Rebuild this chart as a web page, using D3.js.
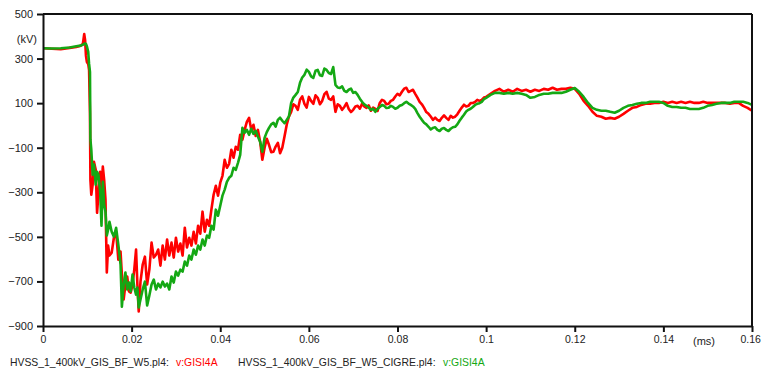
<!DOCTYPE html>
<html>
<head>
<meta charset="utf-8">
<script src="https://cdn.jsdelivr.net/npm/d3@7/dist/d3.min.js"></script>
<style>
  body { margin: 0; background: #fff; }
  svg { display: block; }
  text { font-family: "Liberation Sans", Arial, sans-serif; fill: #222; }
</style>
</head>
<body>
<svg id="chart" width="761" height="372"></svg>
<script>
// Sample instants (ms) shared by both traces
const timeMs = [
  0, 0.002, 0.004, 0.006, 0.0075, 0.0085, 0.009, 0.0093, 0.0095, 0.0097, 0.0099, 0.0102, 0.0104, 0.0106, 0.0107, 0.0109,
  0.0112, 0.0115, 0.0119, 0.0122, 0.0125, 0.0129, 0.0132, 0.0135, 0.0138, 0.0141, 0.0144, 0.0147, 0.015, 0.0155, 0.016, 0.0165,
  0.017, 0.0175, 0.0178, 0.0182, 0.0186, 0.019, 0.0194, 0.0198, 0.0202, 0.0206, 0.021, 0.0213, 0.0216, 0.022,
  0.0225, 0.023, 0.0235, 0.024, 0.0245, 0.025, 0.0255, 0.026, 0.0265, 0.027, 0.0275, 0.028, 0.0285, 0.029, 0.0295, 0.03,
  0.0305, 0.031, 0.0315, 0.032, 0.0325, 0.033, 0.0335, 0.034, 0.0345, 0.035, 0.0355, 0.036, 0.0365, 0.037, 0.0375, 0.038,
  0.0385, 0.039, 0.0395, 0.04, 0.0405, 0.041, 0.0415, 0.042, 0.0425, 0.043, 0.0435, 0.044, 0.0445, 0.045, 0.0455, 0.046,
  0.0465, 0.047, 0.0475, 0.048, 0.0485, 0.049, 0.0495, 0.05,
  0.0505, 0.051, 0.0515, 0.052, 0.0525, 0.053, 0.0535, 0.054, 0.0545, 0.055,
  0.0555, 0.056, 0.0565, 0.057, 0.0575, 0.058, 0.0585, 0.059, 0.0595, 0.06,
  0.0605, 0.061, 0.0615, 0.062, 0.0625, 0.063, 0.0635, 0.064, 0.0645, 0.065,
  0.0655, 0.066, 0.0665, 0.067, 0.0675, 0.068, 0.0685, 0.069, 0.0695, 0.07,
  0.0705, 0.071, 0.0715, 0.072, 0.0725, 0.073, 0.0735, 0.074, 0.0745, 0.075,
  0.0755, 0.076, 0.0765, 0.077, 0.0775, 0.078, 0.0785, 0.079, 0.0795, 0.08,
  0.0805, 0.081, 0.0815, 0.082, 0.0825, 0.083, 0.0835, 0.084, 0.0845, 0.085,
  0.0855, 0.086, 0.0865, 0.087, 0.0875, 0.088, 0.0885, 0.089, 0.0895, 0.09,
  0.0905, 0.091, 0.0915, 0.092, 0.0925, 0.093, 0.0935, 0.094, 0.0945, 0.095,
  0.0955, 0.096, 0.0965, 0.097, 0.0975, 0.098, 0.0985, 0.099, 0.0995,
  0.1, 0.101, 0.102, 0.103, 0.104, 0.105, 0.106, 0.107, 0.108, 0.109, 0.11, 0.111, 0.112, 0.113, 0.114, 0.115,
  0.116, 0.117, 0.118, 0.119, 0.12, 0.121, 0.122, 0.123, 0.124, 0.125, 0.126, 0.127, 0.128, 0.129, 0.13, 0.131,
  0.132, 0.133, 0.134, 0.135, 0.136, 0.137, 0.138, 0.139, 0.14, 0.141, 0.142, 0.143, 0.144, 0.145, 0.146, 0.147,
  0.148, 0.149, 0.15, 0.151, 0.152, 0.153, 0.154, 0.155, 0.156, 0.157, 0.158, 0.159, 0.16
];

// v:GISI4A from HVSS_1_400kV_GIS_BF_W5.pl4 (kV)
const bfW5 = [
  346, 344, 342, 348, 352, 358, 366, 410, 384, 312, 285, 276, 249, 56, -244, -311,
  -266, -163, -199, -392, -311, -208, -288, -185, -244, -333, -660, -539, -584, -571, -504, -477,
  -602, -566, -669, -781, -714, -678, -745, -750, -714, -647, -557, -714, -835, -701,
  -624, -589, -714, -647, -526, -593, -580, -557, -629, -539, -602, -512, -584, -526, -593, -504,
  -566, -530, -584, -459, -548, -504, -539, -477, -530, -450, -486, -387, -477, -423, -450, -378,
  -311, -271, -315, -257, -226, -154, -190, -172, -109, -145, -96, -109, -42, -64, -20, 16,
  34, -20, 3, -47, -20, -73, -154, -100,
  -60, -87, -120, -118, -95, -78, -125, -100, -50, 3,
  40, 61, 95, 88, 70, 115, 130, 97, 80, 128,
  110, 97, 135, 124, 95, 110, 140, 151, 120, 115,
  130, 61, 95, 88, 70, 83, 100, 74, 60, 70,
  85, 88, 75, 97, 85, 79, 90, 66, 80, 74,
  65, 101, 115, 110, 95, 97, 110, 115, 130, 142,
  135, 151, 165, 169, 150, 155, 160, 142, 125, 106,
  95, 79, 60, 52, 40, 25, 35, 25, 20, 34,
  45, 34, 25, 43, 35, 39, 50, 66, 80, 93,
  85, 88, 100, 101, 105, 115, 110, 115, 125,
  128, 142, 155, 164, 151, 160, 151, 164, 155, 160, 151, 160, 155, 164, 160, 169,
  160, 164, 164, 169, 164, 142, 110, 88, 61, 43, 39, 30, 34, 30, 39, 52,
  66, 79, 83, 92, 97, 97, 101, 101, 106, 101, 106, 101, 106, 101, 106, 101,
  101, 106, 101, 101, 101, 101, 101, 97, 101, 101, 88, 79, 66
];

// v:GISI4A from HVSS_1_400kV_GIS_BF_W5_CIGRE.pl4 (kV)
const bfW5Cigre = [
  346, 345, 346, 350, 355, 358, 362, 366, 368, 365, 355, 330, 276, 240, -64, -109,
  -221, -176, -266, -208, -221, -297, -450, -253, -356, -387, -494, -468, -432, -477, -499, -459,
  -535, -624, -813, -714, -660, -736, -705, -745, -669, -727, -759, -727, -817, -781,
  -736, -701, -808, -763, -714, -692, -736, -710, -727, -701, -723, -710, -736, -678, -705, -656,
  -674, -647, -656, -611, -629, -584, -602, -557, -580, -539, -557, -512, -539, -494, -504, -450,
  -468, -378, -405, -360, -315, -288, -253, -235, -226, -190, -199, -168, -132, -11, -33, -20,
  -42, -15, -38, -24, -51, -73, -118, -56,
  -30, -11, 5, 12, -5, 25, 35, 21, 10, 25,
  40, 101, 125, 137, 150, 191, 215, 227, 250, 240,
  220, 213, 245, 249, 225, 222, 255, 249, 235, 231,
  262, 182, 170, 168, 175, 155, 150, 160, 165, 146,
  150, 137, 120, 106, 95, 88, 80, 70, 75, 61,
  75, 83, 92, 88, 78, 79, 88, 83, 75, 79,
  88, 92, 100, 106, 98, 92, 85, 74, 55, 39,
  25, 12, 5, -6, -18, -11, -8, -20, -25, -15,
  -12, -20, -25, -15, -8, -6, 5, 21, 35, 48,
  62, 70, 75, 83, 92, 97, 100, 106, 118,
  124, 137, 146, 146, 142, 146, 142, 146, 142, 137, 124, 128, 137, 142, 142, 146,
  146, 146, 151, 160, 168, 151, 128, 101, 79, 70, 66, 66, 61, 57, 66, 79,
  88, 92, 97, 101, 101, 106, 106, 106, 101, 88, 83, 83, 79, 79, 74, 74,
  74, 79, 88, 92, 97, 101, 101, 101, 106, 106, 106, 101, 92
];

const yTickValues = [-900, -700, -500, -300, -100, 100, 300, 500];
const xTickValues = [0, 0.02, 0.04, 0.06, 0.08, 0.1, 0.12, 0.14, 0.16];
const xTickLabels = ["0", "0.02", "0.04", "0.06", "0.08", "0.1", "0.12", "0.14", "0.16"];

const svg = d3.select("#chart");
const plot = { left: 43, top: 14, right: 752, bottom: 326 };

const x = d3.scaleLinear().domain([0, 0.16]).range([plot.left, plot.right]);
const y = d3.scaleLinear().domain([-900, 500]).range([plot.bottom, plot.top]);

svg.append("rect").attr("width", 761).attr("height", 372).attr("fill", "#fff");

svg.append("defs").append("clipPath").attr("id", "plot-clip")
  .append("rect")
  .attr("x", plot.left).attr("y", plot.top)
  .attr("width", plot.right - plot.left).attr("height", plot.bottom - plot.top);

// Traces
const line = d3.line()
  .defined((d, i) => i < timeMs.length)
  .x((d, i) => x(timeMs[i]))
  .y(d => y(d));

const traces = svg.append("g").attr("clip-path", "url(#plot-clip)");
traces.append("path")
  .datum(bfW5)
  .attr("d", line)
  .attr("fill", "none")
  .attr("stroke", "#ff0000")
  .attr("stroke-width", 2.6)
  .attr("stroke-linejoin", "round");
traces.append("path")
  .datum(bfW5Cigre)
  .attr("d", line)
  .attr("fill", "none")
  .attr("stroke", "#14a814")
  .attr("stroke-width", 2.6)
  .attr("stroke-linejoin", "round");

// Frame: top and right borders
svg.append("line")
  .attr("x1", plot.left).attr("x2", plot.right)
  .attr("y1", plot.top).attr("y2", plot.top)
  .attr("stroke", "#111").attr("stroke-width", 2);
svg.append("line")
  .attr("x1", plot.right).attr("x2", plot.right)
  .attr("y1", plot.top).attr("y2", plot.bottom)
  .attr("stroke", "#111").attr("stroke-width", 2);

// Axes
const yAxis = d3.axisLeft(y).tickValues(yTickValues).tickSizeInner(6).tickSizeOuter(0).tickPadding(4);
const gy = svg.append("g").attr("transform", `translate(${plot.left},0)`).call(yAxis);

const xAxis = d3.axisBottom(x).tickValues(xTickValues)
  .tickFormat((d, i) => xTickLabels[i])
  .tickSizeInner(6).tickSizeOuter(0).tickPadding(4);
const gx = svg.append("g").attr("transform", `translate(0,${plot.bottom})`).call(xAxis);

[gx, gy].forEach(g => {
  g.select(".domain").attr("stroke", "#111").attr("stroke-width", 2);
  g.selectAll(".tick line").attr("stroke", "#111").attr("stroke-width", 2);
  g.selectAll(".tick text")
    .attr("fill", "#222")
    .style("font-family", "'Liberation Sans', Arial, sans-serif")
    .style("font-size", "11px");
});
gx.selectAll(".tick text").style("font-size", "10.5px");
// keep the last time label inside the canvas
gx.selectAll(".tick text").filter(d => d === 0.16).attr("dx", -1.8);

// Unit labels
svg.append("text").attr("x", 37).attr("y", 43).attr("text-anchor", "end")
  .style("font-size", "11px").text("(kV)");
svg.append("text").attr("x", 704).attr("y", 345).attr("text-anchor", "middle")
  .style("font-size", "11px").text("(ms)");

// Legend
const legendItems = [
  { file: "HVSS_1_400kV_GIS_BF_W5.pl4:", signal: "v:GISI4A", color: "#ff0000", x: 10, sx: 176 },
  { file: "HVSS_1_400kV_GIS_BF_W5_CIGRE.pl4:", signal: "v:GISI4A", color: "#14a814", x: 238, sx: 443 }
];
const legend = svg.append("g");
legendItems.forEach(item => {
  legend.append("text").attr("x", item.x).attr("y", 366)
    .style("font-size", "10.4px").text(item.file);
  legend.append("text").attr("x", item.sx).attr("y", 366)
    .style("font-size", "10.4px").style("fill", item.color).text(item.signal);
});
</script>
</body>
</html>
